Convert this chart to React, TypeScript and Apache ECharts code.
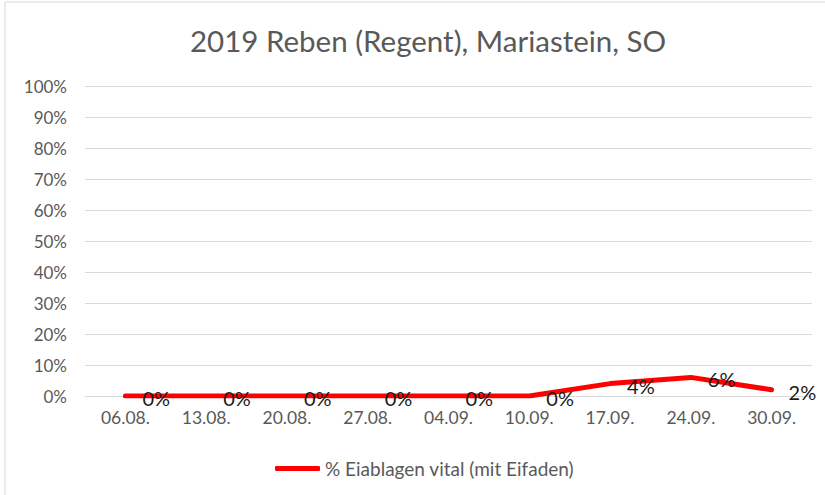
import React, { useEffect, useRef } from "react";
import * as echarts from "echarts";

const titleText = "2019 Reben (Regent), Mariastein, SO";
const categories = ["06.08.", "13.08.", "20.08.", "27.08.", "04.09.", "10.09.", "17.09.", "24.09.", "30.09."];
const seriesName = "% Eiablagen vital (mit Eifaden)";
const values = [0, 0, 0, 0, 0, 0, 4, 6, 2];

const FONT = "Lato, 'Open Sans', sans-serif";

export default function App() {
  const ref = useRef<HTMLDivElement>(null);
  useEffect(() => {
    if (!ref.current) return;
    const chart = echarts.init(ref.current, undefined, { renderer: "svg" });
    chart.setOption({
      animation: false,
      backgroundColor: "#ffffff",
      title: {
        text: titleText,
        left: 190,
        top: 25,
        padding: 0,
        textStyle: { color: "#595959", fontSize: 29.5, fontWeight: "normal", fontFamily: FONT },
      },
      graphic: [
        {
          type: "rect",
          shape: { x: 5, y: 2, width: 830, height: 500 },
          style: { fill: "none", stroke: "#d9d9d9", lineWidth: 1 },
          silent: true,
        },
      ],
      legend: {
        bottom: 17,
        left: 275,
        padding: 0,
        itemWidth: 45,
        itemHeight: 5,
        itemGap: 6,
        icon: "roundRect",
        textStyle: { color: "#595959", fontSize: 19, fontFamily: FONT },
        data: [seriesName],
      },
      grid: { left: 85, right: 13, top: 86, bottom: 99, containLabel: false },
      xAxis: {
        type: "category",
        data: categories,
        boundaryGap: true,
        axisLine: { show: true, lineStyle: { color: "#d9d9d9" } },
        axisTick: { show: false },
        axisLabel: { color: "#595959", fontSize: 17.5, fontFamily: FONT, margin: 12 },
      },
      yAxis: {
        type: "value",
        min: 0,
        max: 100,
        interval: 10,
        axisLine: { show: false },
        axisTick: { show: false },
        splitLine: { lineStyle: { color: "#d9d9d9" } },
        axisLabel: { color: "#595959", fontSize: 17, fontFamily: FONT, formatter: "{value}%", margin: 18 },
      },
      series: [
        {
          name: seriesName,
          type: "line",
          data: values,
          symbol: "circle",
          symbolSize: 0,
          showSymbol: true,
          lineStyle: { color: "#ff0000", width: 5, cap: "round", join: "round" },
          itemStyle: { color: "#ff0000" },
          label: {
            show: true,
            position: "right",
            distance: 17,
            formatter: "{c}%",
            color: "#1a1a1a",
            fontSize: 20,
            fontFamily: FONT,
            offset: [0, 2],
          },
        },
      ],
    });
    return () => chart.dispose();
  }, []);
  return <div ref={ref} style={{ position: "absolute", left: 0, top: 0, width: 825, height: 495 }} />;
}
